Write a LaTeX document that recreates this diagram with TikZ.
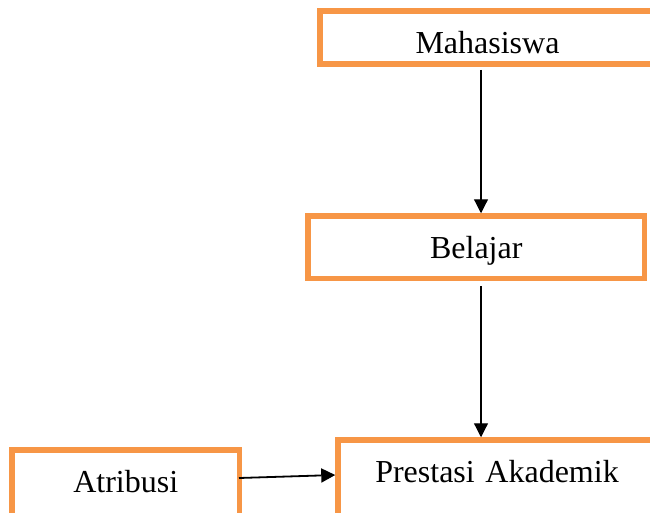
\documentclass[tikz,border=0pt]{standalone}
\usepackage{fontspec}
\setmainfont{Liberation Serif}
\usetikzlibrary{arrows.meta,calc}
\definecolor{oranye}{HTML}{F79646}
\tikzset{
  kotak/.style={draw=oranye,line width=5.5pt,inner sep=0pt,align=center,
    text height=42pt,font=\fontsize{32}{38}\selectfont,anchor=north west},
  panah/.style={-{Triangle[length=14pt,width=14pt]},line width=1.2pt},
}
\begin{document}
\begin{tikzpicture}[x=1pt,y=1pt]
  \useasboundingbox (0,0) rectangle (650,-512);
  % kotak-kotak
  \node[kotak,text width=335pt,text depth=11pt] (mhs) at (317.25,-8.25) {Mahasiswa};
  \node[kotak,text width=336.5pt,text depth=20.5pt] (bel) at (305.25,-213.25) {Belajar};
  \node[kotak,text width=318pt,text depth=40pt] (pres) at (335.25,-437.25) {Prestasi Akademik};
  \node[kotak,text width=227.5pt,text depth=40pt] (atr) at (9.25,-447.25) {Atribusi};
  % panah
  \coordinate (jalur) at (481,0);
  \draw[panah,shorten <=3pt] (mhs.south -| jalur) -- (bel.north -| jalur);
  \draw[panah,shorten <=5pt] (bel.south -| jalur) -- (pres.north -| jalur);
  \draw[panah,line width=1.8pt] ($(atr.north east)+(-3.25,-30.75)$) -- ($(pres.north west)+(0,-37.75)$);
\end{tikzpicture}
\end{document}
